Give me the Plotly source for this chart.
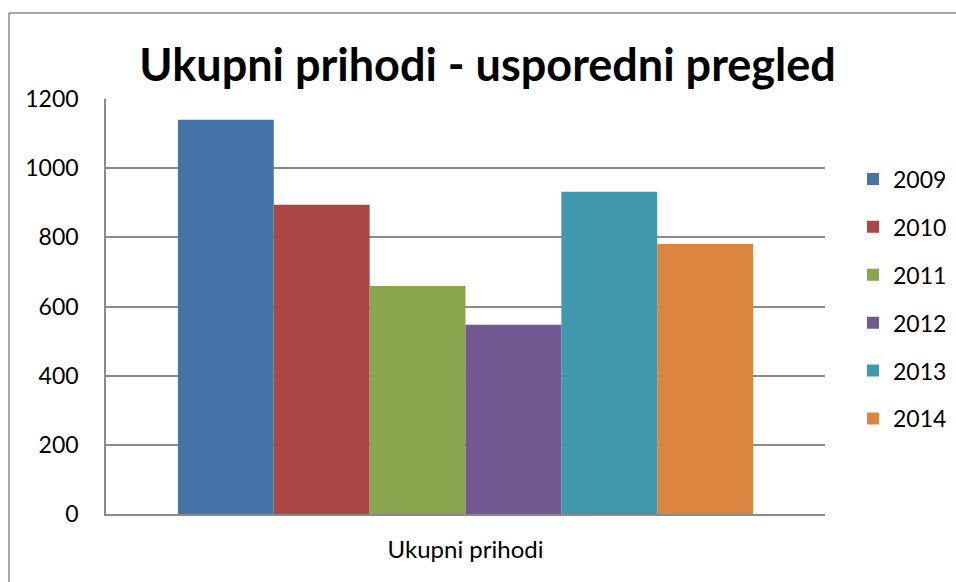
import plotly.graph_objects as go

categories = ["Ukupni prihodi"]
years = ["2009", "2010", "2011", "2012", "2013", "2014"]
values = [1140, 894, 659, 547, 932, 781]
colors = ["#4572A7", "#AA4643", "#89A54E", "#71588F", "#4198AF", "#DB843D"]
y_ticks = [0, 200, 400, 600, 800, 1000, 1200]

FONT = "Lato"

W, H = 956, 582
L, T, R, B = 106, 99, 131, 68
PW, PH = W - L - R, H - T - B

fig = go.Figure()
for yr, v, c in zip(years, values, colors):
    fig.add_trace(go.Bar(x=categories, y=[v], name=yr, marker=dict(color=c, line=dict(width=0)),
                         legendgroup=yr))

frame = dict(color="#8a8a8a", width=1.5)
fig.update_layout(
    width=W, height=H,
    margin=dict(l=L, r=R, t=T, b=B, autoexpand=False),
    paper_bgcolor="white", plot_bgcolor="white",
    barmode="group", bargap=0.2, bargroupgap=0,
    font=dict(family=FONT, color="black", size=23),
    title=dict(text="<b>Ukupni prihodi - usporedni pregled</b>",
               font=dict(family=FONT, size=45, color="black"),
               x=487.5 / W, xanchor="center", xref="container",
               y=1 - 65 / H, yanchor="middle", yref="container"),
    legend=dict(x=(853 - L) / PW, xanchor="left", y=0.859, yanchor="top",
                font=dict(family=FONT, size=23), tracegroupgap=15,
                bgcolor="rgba(0,0,0,0)"),
    xaxis=dict(showgrid=False, showline=True, linecolor="#8a8a8a", linewidth=1.5,
               ticks="", tickfont=dict(size=24), ticklabelstandoff=13),
    yaxis=dict(range=[0, 1200], tickvals=y_ticks, showgrid=True, gridcolor="#8a8a8a",
               gridwidth=1.5, showline=True, linecolor="#8a8a8a", linewidth=1.5,
               ticks="", zeroline=False, tickfont=dict(size=23), ticklabelstandoff=21),
    shapes=[
        dict(type="line", xref="paper", yref="paper",
             x0=(9 - L) / PW, x1=(W + 20 - L) / PW, y0=1 + (T - 13) / PH, y1=1 + (T - 13) / PH,
             line=frame, layer="below"),
        dict(type="line", xref="paper", yref="paper",
             x0=(9 - L) / PW, x1=(9 - L) / PW, y0=1 + (T - 13) / PH, y1=-(B + 20) / PH,
             line=frame, layer="below"),
    ],
)

fig.write_html(
    "out.html",
    config={"displayModeBar": False},
    post_script="document.body.style.margin='0';document.documentElement.style.overflow='hidden';document.body.style.overflow='hidden';",
)
